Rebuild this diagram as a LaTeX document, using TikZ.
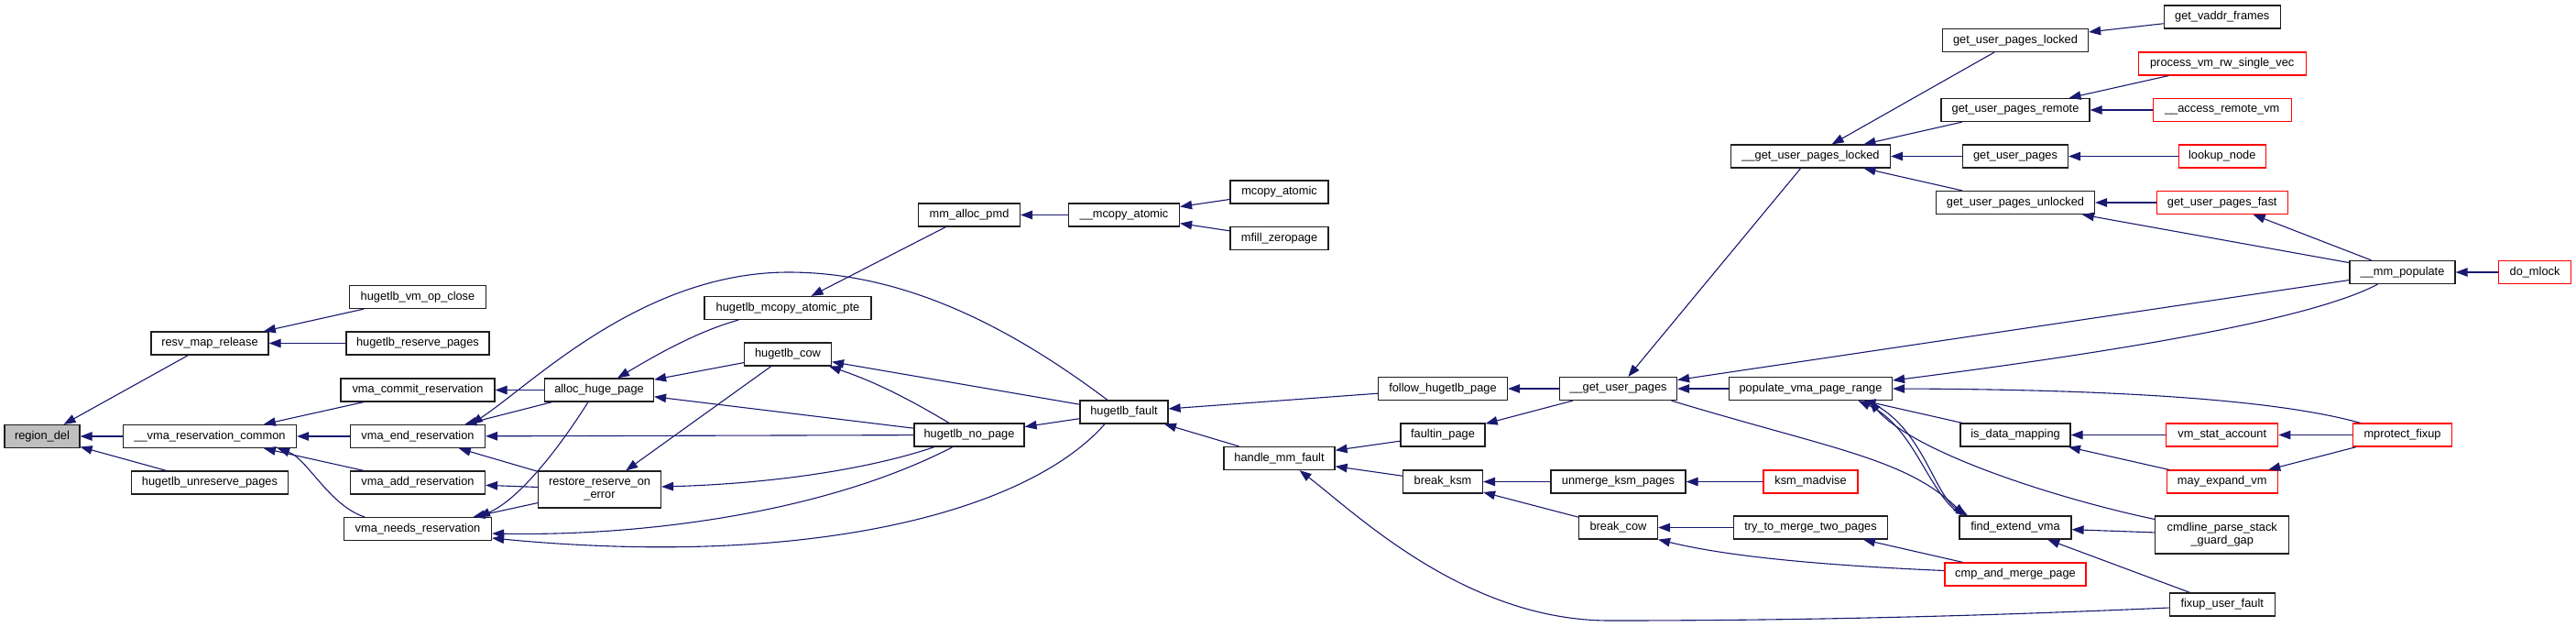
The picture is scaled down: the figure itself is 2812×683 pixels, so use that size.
\documentclass[tikz,border=0pt]{standalone}
\usepackage{fontspec}
\setmainfont{Liberation Sans}
\usepackage{tikz}
\usetikzlibrary{arrows.meta}
\definecolor{edgeblue}{RGB}{25,25,112}
\definecolor{rootgray}{RGB}{191,191,191}
\definecolor{trunc}{RGB}{255,0,0}
\definecolor{frame}{RGB}{30,30,30}

\begin{document}
\begin{tikzpicture}[x=1pt, y=-1pt,
  fn/.style={draw=frame, line width=1.2pt, fill=white, inner sep=0pt, minimum height=25pt, align=center, font=\fontsize{12.8}{14}\selectfont},
  root/.style={fn, fill=rootgray},
  cut/.style={fn, draw=trunc},
  calls/.style={-{Triangle[length=13pt,width=9.5pt]}, line width=1.1pt, color=edgeblue}
]
\useasboundingbox (0,0) rectangle (2812,683);
% callee column
\node[root, minimum width=82pt] (rdel) at (46,476) {region\_del};
\node[fn, minimum width=128pt] (rmr) at (229,374.5) {resv\_map\_release};
\node[fn, minimum width=189pt] (vrc) at (229,476) {\_\_vma\_reservation\_common};
\node[fn, minimum width=171pt] (hup) at (229,526.5) {hugetlb\_unreserve\_pages};
\node[fn, minimum width=149pt] (hvoc) at (456,324) {hugetlb\_vm\_op\_close};
\node[fn, minimum width=156pt] (hrp) at (456,374.5) {hugetlb\_reserve\_pages};
\node[fn, minimum width=168pt] (vcr) at (456,425.5) {vma\_commit\_reservation};
\node[fn, minimum width=147pt] (ver) at (456,476) {vma\_end\_reservation};
\node[fn, minimum width=147pt] (var) at (456,526.5) {vma\_add\_reservation};
\node[fn, minimum width=161pt] (vns) at (456,577) {vma\_needs\_reservation};
\node[fn, minimum width=119pt] (ahp) at (654,425.5) {alloc\_huge\_page};
\node[fn, minimum width=134pt, minimum height=40pt] (rre) at (654.5,534) {restore\_reserve\_on\\\_error};
\node[fn, minimum width=182pt] (hmap) at (860,336) {hugetlb\_mcopy\_atomic\_pte};
\node[fn, minimum width=95pt] (hcow) at (860,386.5) {hugetlb\_cow};
\node[fn, minimum width=111pt] (mmap) at (1058,234.5) {mm\_alloc\_pmd};
\node[fn, minimum width=120pt] (hnp) at (1058,474.5) {hugetlb\_no\_page};
\node[fn, minimum width=121pt] (mcpa) at (1227,234.5) {\_\_mcopy\_atomic};
\node[fn, minimum width=96pt] (hf) at (1227,449.5) {hugetlb\_fault};
\node[fn, minimum width=107pt] (mca) at (1396.5,209.5) {mcopy\_atomic};
\node[fn, minimum width=107pt] (mfz) at (1396.5,260) {mfill\_zeropage};
\node[fn, minimum width=121pt] (hmf) at (1396.5,500) {handle\_mm\_fault};
\node[fn, minimum width=141pt] (fhp) at (1575,424) {follow\_hugetlb\_page};
\node[fn, minimum width=92pt] (fp) at (1575,474.5) {faultin\_page};
\node[fn, minimum width=87pt] (bk) at (1575,525.5) {break\_ksm};
\node[fn, minimum width=128pt] (gup) at (1766.5,424) {\_\_get\_user\_pages};
\node[fn, minimum width=147pt] (ukp) at (1766.5,525.5) {unmerge\_ksm\_pages};
\node[fn, minimum width=86pt] (bc) at (1766.5,575.5) {break\_cow};
\node[fn, minimum width=174pt] (gupl) at (1976.5,170.5) {\_\_get\_user\_pages\_locked};
\node[fn, minimum width=178pt] (pvpr) at (1976.5,424) {populate\_vma\_page\_range};
\node[cut, minimum width=103pt] (km) at (1976.5,525.5) {ksm\_madvise};
\node[fn, minimum width=168pt] (ttm) at (1976.5,575.5) {try\_to\_merge\_two\_pages};
\node[fn, minimum width=159pt] (gupll) at (2200,44) {get\_user\_pages\_locked};
\node[fn, minimum width=162pt] (gupr) at (2200,120) {get\_user\_pages\_remote};
\node[fn, minimum width=115pt] (gu) at (2200,170.5) {get\_user\_pages};
\node[fn, minimum width=173pt] (gupu) at (2200,221) {get\_user\_pages\_unlocked};
\node[fn, minimum width=120pt] (idm) at (2200,474.5) {is\_data\_mapping};
\node[fn, minimum width=122pt] (fev) at (2200,575.5) {find\_extend\_vma};
\node[cut, minimum width=154pt] (cmp) at (2200,626.5) {cmp\_and\_merge\_page};
\node[fn, minimum width=127pt] (gvf) at (2425.7,18.5) {get\_vaddr\_frames};
\node[cut, minimum width=183pt] (pvrs) at (2425.7,69.5) {process\_vm\_rw\_single\_vec};
\node[cut, minimum width=151pt] (arv) at (2425.7,120) {\_\_access\_remote\_vm};
\node[cut, minimum width=95pt] (ln) at (2425.7,170.5) {lookup\_node};
\node[cut, minimum width=143pt] (gupf) at (2425.7,221) {get\_user\_pages\_fast};
\node[cut, minimum width=122pt] (vsa) at (2425.7,474.5) {vm\_stat\_account};
\node[cut, minimum width=121pt] (mev) at (2425.7,525.5) {may\_expand\_vm};
\node[fn, minimum width=146pt, minimum height=41pt] (cps) at (2425.7,583.5) {cmdline\_parse\_stack\\\_guard\_gap};
\node[fn, minimum width=115pt] (fuf) at (2425.7,659.5) {fixup\_user\_fault};
\node[fn, minimum width=115pt] (mmp) at (2622.5,297) {\_\_mm\_populate};
\node[cut, minimum width=108pt] (mpf) at (2622.5,474.5) {mprotect\_fixup};
\node[cut, minimum width=79pt] (dml) at (2767,297) {do\_mlock};
% calls, caller to callee
\draw[calls] (rmr) -- (rdel);
\draw[calls] (vrc) -- (rdel);
\draw[calls] (hup) -- (rdel);
\draw[calls] (hvoc) -- (rmr);
\draw[calls] (hrp) -- (rmr);
\draw[calls] (vcr) -- (vrc);
\draw[calls] (ver) -- (vrc);
\draw[calls] (var) -- (vrc);
\draw[calls] ([xshift=-58pt]vns.north) .. controls (360,552) and (335,500) .. ([xshift=74pt]vrc.south);
\draw[calls] (ahp) -- (vcr);
\draw[calls] (ahp) -- (ver);
\draw[calls] ([xshift=-12pt]ahp.south) .. controls (600,505) and (560,548) .. ([xshift=66pt]vns.north);
\draw[calls] (hnp) -- (ver);
\draw[calls] (rre) -- (ver);
\draw[calls] (rre) -- (var);
\draw[calls] (rre) -- (vns);
\draw[calls] ([xshift=-18pt]hf.north) .. controls (1120,370) and (1000,297) .. (861,297) .. controls (700,297) and (580,420) .. ([xshift=58pt]ver.north);
\draw[calls] ([xshift=-18pt]hnp.south) .. controls (900,560) and (700,585) .. ([yshift=-5pt]vns.east);
\draw[calls] ([xshift=-21pt]hf.south) .. controls (1120,560) and (880,620) .. ([yshift=-10pt]vns.east);
\draw[calls] ([xshift=-54pt]hmap.south) .. controls (760,362) and (715,388) .. ([xshift=20pt]ahp.north);
\draw[calls] (hcow) -- (ahp);
\draw[calls] (hnp) -- (ahp);
\draw[calls] (hcow) -- (rre);
\draw[calls] ([xshift=-38pt]hnp.south) .. controls (960,508) and (860,527) .. ([yshift=3pt]rre.east);
\draw[calls] (mmap) -- (hmap);
\draw[calls] (hf) -- (hcow);
\draw[calls] ([xshift=-22pt]hnp.north) .. controls (1000,440) and (960,418) .. ([xshift=45pt]hcow.south);
\draw[calls] (hf) -- (hnp);
\draw[calls] (mcpa) -- (mmap);
\draw[calls] (mca) -- (mcpa);
\draw[calls] (mfz) -- (mcpa);
\draw[calls] (fhp) -- (hf);
\draw[calls] (hmf) -- (hf);
\draw[calls] (fp) -- (hmf);
\draw[calls] (bk) -- (hmf);
\draw[calls] ([yshift=-3.5pt]fuf.west) .. controls (2100,675) and (1900,677) .. (1757,677) .. controls (1600,677) and (1480,560) .. ([xshift=22pt]hmf.south);
\draw[calls] (gup) -- (fhp);
\draw[calls] (gup) -- (fp);
\draw[calls] (gupl) -- (gup);
\draw[calls] (mmp) -- (gup);
\draw[calls] (pvpr) -- (gup);
\draw[calls] ([xshift=58pt]gup.south) .. controls (2000,490) and (2080,500) .. ([xshift=-55pt]fev.north);
\draw[calls] (gupll) -- (gupl);
\draw[calls] (gupr) -- (gupl);
\draw[calls] (gu) -- (gupl);
\draw[calls] (gupu) -- (gupl);
\draw[calls] (gvf) -- (gupll);
\draw[calls] (pvrs) -- (gupr);
\draw[calls] (arv) -- (gupr);
\draw[calls] (ln) -- (gu);
\draw[calls] (gupf) -- (gupu);
\draw[calls] (mmp) -- (gupu);
\draw[calls] (mmp) -- (gupf);
\draw[calls] (dml) -- (mmp);
\draw[calls] ([xshift=-27pt]mmp.south) .. controls (2520,350) and (2300,385) .. ([yshift=9pt]pvpr.east);
\draw[calls] ([xshift=-46pt]mpf.north) .. controls (2500,440) and (2350,425) .. (pvpr.east);
\draw[calls] (idm) -- (pvpr);
\draw[calls] ([yshift=17pt]cps.west) .. controls (2250,545) and (2090,495) .. ([xshift=64pt]pvpr.south);
\draw[calls] ([xshift=-58pt]fev.north) .. controls (2105,540) and (2090,465) .. ([xshift=52pt]pvpr.south);
\draw[calls] ([xshift=62pt]pvpr.south) .. controls (2100,465) and (2110,540) .. ([xshift=-52pt]fev.north);
\draw[calls] (vsa) -- (idm);
\draw[calls] (mev) -- (idm);
\draw[calls] (mpf) -- (vsa);
\draw[calls] (mpf) -- (mev);
\draw[calls] (cps) -- (fev);
\draw[calls] (fuf) -- (fev);
\draw[calls] (ukp) -- (bk);
\draw[calls] (bc) -- (bk);
\draw[calls] (km) -- (ukp);
\draw[calls] (ttm) -- (bc);
\draw[calls] ([yshift=4pt]cmp.west) .. controls (1950,615) and (1870,603) .. (bc.south east);
\draw[calls] (cmp) -- (ttm);
\end{tikzpicture}
\end{document}
